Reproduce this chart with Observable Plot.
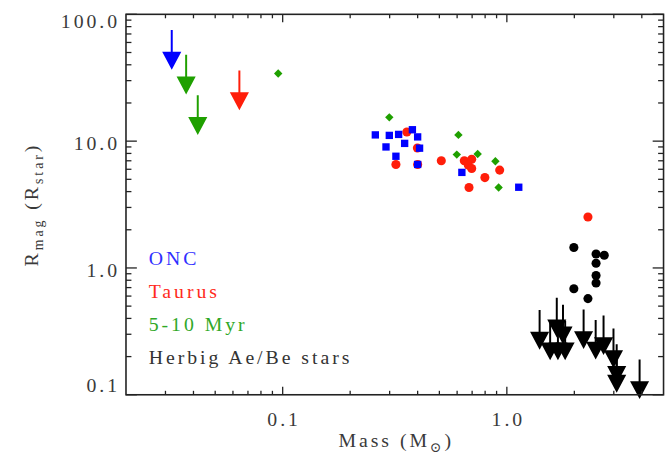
<!DOCTYPE html>
<html>
<head>
<meta charset="utf-8">
<script src="https://cdn.jsdelivr.net/npm/d3@7"></script>
<script src="https://cdn.jsdelivr.net/npm/@observablehq/plot@0.6"></script>
<style>
  html, body { margin: 0; padding: 0; background: #fff; overflow: hidden; }
  #chart { width: 667px; height: 464px; overflow: hidden; }
</style>
</head>
<body>
<div id="chart"></div>
<script>
// Magnetospheric radius (in stellar radii) against stellar mass, per sample.

// ONC — detections
const oncMass = [0.259, 0.299, 0.329, 0.379, 0.400, 0.289, 0.350, 0.408, 0.320, 0.400, 0.630, 1.13];
const oncRmag = [11.2, 11.1, 11.3, 12.3, 10.8, 9.0, 9.6, 8.8, 7.6, 6.55, 5.67, 4.33];
// ONC — upper limits
const oncLimitMass = [0.0320];
const oncLimitRmag = [75.2];

// Taurus — detections
const taurusMass = [0.358, 0.399, 0.320, 0.400, 0.510, 0.646, 0.697, 0.673, 0.697, 0.929, 0.798, 0.678, 2.30];
const taurusRmag = [11.8, 8.84, 6.55, 6.55, 7.00, 7.00, 7.20, 6.47, 6.09, 5.91, 5.16, 4.31, 2.52];
// Taurus — upper limits
const taurusLimitMass = [0.0641];
const taurusLimitRmag = [36.0];

// 5-10 Myr — detections
const myrMass = [0.0955, 0.299, 0.608, 0.598, 0.741, 0.889, 0.919];
const myrRmag = [34.1, 15.4, 11.2, 7.83, 7.91, 6.95, 4.31];
// 5-10 Myr — upper limits
const myrLimitMass = [0.0371, 0.0418];
const myrLimitRmag = [48.0, 23.0];

// Herbig Ae/Be stars — detections
const herbigMass = [1.99, 2.50, 2.72, 2.50, 2.50, 2.50, 1.99, 2.30];
const herbigRmag = [1.45, 1.29, 1.26, 1.09, 0.873, 0.760, 0.686, 0.573];
// Herbig Ae/Be stars — upper limits
const herbigLimitMass = [1.40, 1.56, 1.67, 1.69, 1.78, 1.82, 2.20, 2.49, 2.70, 2.99, 3.09, 3.09, 3.91];
const herbigLimitRmag = [0.466, 0.384, 0.581, 0.384, 0.512, 0.384, 0.471, 0.389, 0.422, 0.333, 0.250, 0.213, 0.190];

// Axes
const xMajor = [0.1, 1];
const xTickLabels = ["0.1", "1.0"];
const yMajor = [0.1, 1, 10, 100];
const yTickLabels = ["0.1", "1.0", "10.0", "100.0"];
const legendLabels = ["ONC", "Taurus", "5-10 Myr", "Herbig Ae/Be stars"];

// ---- styling ----
const BLUE = "#0000ff", RED = "#ff1e0a", GREEN = "#1fa000", BLACK = "#000000";
const LEGEND_COLORS = ["#2f2fff", "#ff2a20", "#30a828", "#333333"];
const TEXT = "#3a3a3a", AXIS = "#222222";

const rows = (mass, rmag) => mass.map((m, i) => ({mass: m, rmag: rmag[i]}));

// Square rotated 45°, sized by area like Plot's built-in symbols
const diamond = {
  draw(context, size) {
    const h = Math.sqrt(size / 2);
    context.moveTo(0, -h);
    context.lineTo(h, 0);
    context.lineTo(0, h);
    context.lineTo(-h, 0);
    context.closePath();
  }
};

// Upper-limit arrow: shaft plus filled triangular head
const HEAD_LEN = 15, HEAD_HALF = 8;
const limitArrow = {
  draw(context, l) {
    const b = -(l - HEAD_LEN);
    context.moveTo(0, 0);
    context.lineTo(0, b);
    context.moveTo(-HEAD_HALF, b);
    context.lineTo(0, -l);
    context.lineTo(HEAD_HALF, b);
    context.closePath();
  }
};
const limits = (mass, rmag, color) =>
  Plot.vector(rows(mass, rmag), {
    x: "mass", y: "rmag", length: 38, rotate: 180, anchor: "start",
    shape: limitArrow, stroke: color, fill: color, strokeWidth: 2,
    strokeLinejoin: "miter", strokeLinecap: "butt"
  });

// Inward-pointing ticks on all four sides of the box
const tickShape = {draw(context, l) { context.moveTo(0, 0); context.lineTo(0, -l); }};
const minorOf = (lo, hi) => {
  const out = [];
  for (let e = Math.floor(Math.log10(lo)); e <= Math.ceil(Math.log10(hi)); e++)
    for (let j = 2; j <= 9; j++) {
      const v = j * Math.pow(10, e);
      if (v > lo * 1.0001 && v < hi * 0.9999) out.push(v);
    }
  return out;
};
const xMinor = minorOf(0.02, 5);
const yMinor = minorOf(0.1, 100);
const tickOpts = {shape: tickShape, anchor: "start", stroke: AXIS, strokeWidth: 1.3, strokeLinecap: "butt"};
const xTicks = (values, len) => [
  Plot.vector(values, {...tickOpts, x: d => d, frameAnchor: "bottom", rotate: 0, length: len}),
  Plot.vector(values, {...tickOpts, x: d => d, frameAnchor: "top", rotate: 180, length: len})
];
const yTicks = (values, len) => [
  Plot.vector(values, {...tickOpts, y: d => d, frameAnchor: "left", rotate: 90, length: len}),
  Plot.vector(values, {...tickOpts, y: d => d, frameAnchor: "right", rotate: -90, length: len})
];

// Text with subscript runs, built as tspans
const SUB_SHIFT = 5;
const richText = (parts) => (index, scales, values, dims, ctx, next) => {
  const g = next(index, scales, values, dims, ctx);
  const t = d3.select(g).select("text");
  t.text(null);
  let shift = 0;
  for (const [s, sub] of parts) {
    const target = sub ? SUB_SHIFT : 0;
    t.append("tspan").attr("dy", target - shift).attr("font-size", sub ? 14 : null).text(s);
    shift = target;
  }
  return g;
};

const yLabel = (d) => yTickLabels[yMajor.indexOf(d)];
const yAxisOpts = {anchor: "left", tickSize: 0, tickPadding: 6, tickFormat: yLabel, fill: TEXT, label: null};

const chart = Plot.plot({
  width: 675,
  height: 464,
  marginLeft: 127,
  marginRight: 4,
  marginTop: 14,
  marginBottom: 65,
  style: {
    fontFamily: '"Liberation Serif", "DejaVu Serif", serif',
    fontSize: "20px",
    letterSpacing: "3px",
    background: "#fff",
    color: AXIS
  },
  x: {type: "log", domain: [0.02, 5], axis: null},
  y: {type: "log", domain: [0.1, 100], axis: null},
  marks: [
    // data
    Plot.dot(rows(taurusMass, taurusRmag), {x: "mass", y: "rmag", symbol: "circle", r: 4.6, fill: RED}),
    Plot.dot(rows(oncMass, oncRmag), {x: "mass", y: "rmag", symbol: "square", r: 4.2, fill: BLUE}),
    Plot.dot(rows(myrMass, myrRmag), {x: "mass", y: "rmag", symbol: diamond, r: 3.4, fill: GREEN}),
    Plot.dot(rows(herbigMass, herbigRmag), {x: "mass", y: "rmag", symbol: "circle", r: 4.6, fill: BLACK}),
    limits(oncLimitMass, oncLimitRmag, BLUE),
    limits(taurusLimitMass, taurusLimitRmag, RED),
    limits(myrLimitMass, myrLimitRmag, GREEN),
    limits(herbigLimitMass, herbigLimitRmag, BLACK),

    // box and ticks
    Plot.frame({stroke: AXIS, strokeWidth: 1.6}),
    ...xTicks(xMajor, 8),
    ...xTicks(xMinor, 4),
    ...yTicks(yMajor, 11),
    ...yTicks(yMinor, 5.5),

    // tick labels (end labels sit inside the axis range)
    Plot.axisX(xMajor, {anchor: "bottom", tickSize: 0, tickPadding: 17, dx: 1.5,
      tickFormat: (d) => xTickLabels[xMajor.indexOf(d)], fill: TEXT, label: null}),
    Plot.axisY(yMajor.slice(1, 3), {...yAxisOpts, dy: 3}),
    Plot.axisY(yMajor.slice(3), {...yAxisOpts, dy: 7.5}),
    Plot.axisY(yMajor.slice(0, 1), {...yAxisOpts, dy: -9}),

    // axis titles
    Plot.text(["Mass (M⊙)"], {frameAnchor: "bottom", dy: 52.6, dx: 1.5, textAnchor: "middle", fill: TEXT,
      render: richText([["Mass (M", 0], ["⊙", 1], [")", 0]])}),
    Plot.text(["Rmag (Rstar)"], {frameAnchor: "left", rotate: -90, dx: -95.4, textAnchor: "middle", fill: TEXT,
      render: richText([["R", 0], ["mag", 1], [" (R", 0], ["star", 1], [")", 0]])}),

    // legend
    ...legendLabels.map((label, i) =>
      Plot.text([label], {frameAnchor: "top-left", dx: 23, dy: 239.6 + i * 33.3, textAnchor: "start",
        fill: LEGEND_COLORS[i]}))
  ]
});

document.getElementById("chart").append(chart);
</script>
</body>
</html>
